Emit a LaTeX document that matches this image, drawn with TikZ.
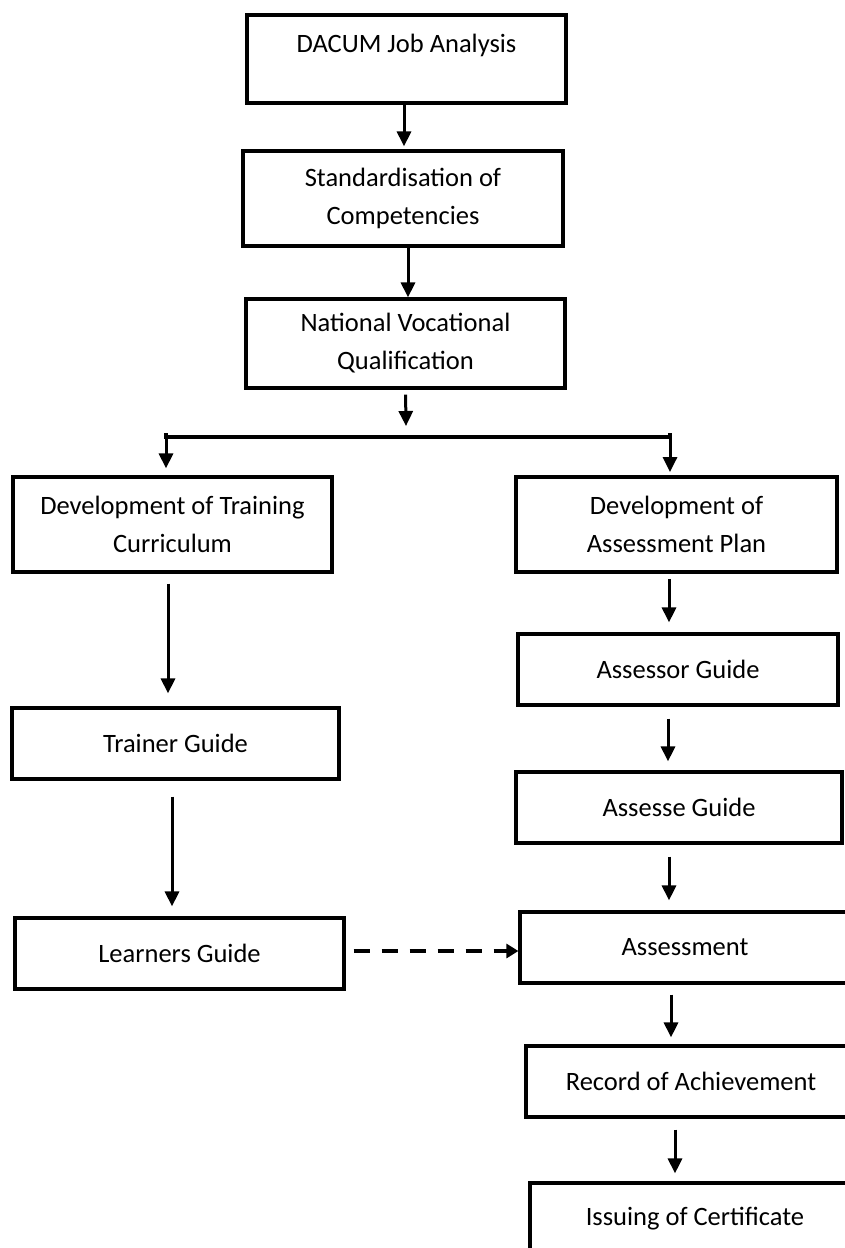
\documentclass[tikz,border=0pt]{standalone}
\usepackage{fontspec}
\setmainfont{Carlito}
\usetikzlibrary{arrows.meta}
\tikzset{
  box/.style={draw=black, line width=3.2pt, rectangle, align=center, inner sep=0pt,
    font=\fontsize{26.5}{38}\selectfont},
  arr/.style={line width=3pt, -{Triangle[width=14pt,length=15pt]}},
  dasharr/.style={line width=3.4pt, dash pattern=on 16pt off 12pt, -{Triangle[width=14pt,length=12pt]}},
  link/.style={line width=3.4pt}
}
\begin{document}
\begin{tikzpicture}[x=1pt,y=-1pt]
\useasboundingbox[fill=white] (0,0) rectangle (845,1248);
% boxes
\node[box, minimum width=319pt, minimum height=88pt] (dacum) at (406.5,59) {DACUM Job Analysis\\[-6pt]\mbox{}};
\node[box, minimum width=320pt, minimum height=95pt] (std) at (403,198.5) {Standardisation of\\Competencies};
\node[box, minimum width=319pt, minimum height=89pt] (nvq) at (405.5,343.5) {National Vocational\\Qualification};
\node[box, minimum width=319pt, minimum height=95pt] (devT) at (172.5,524.5) {Development of Training\\Curriculum};
\node[box, line width=3.8pt, minimum width=321pt, minimum height=95pt] (devA) at (676.5,524.5) {Development of\\Assessment Plan};
\node[box, minimum width=320pt, minimum height=71pt] (assessor) at (678,669.5) {Assessor Guide};
\node[box, minimum width=327pt, minimum height=71pt] (trainer) at (175.5,743.5) {Trainer Guide};
\node[box, minimum width=326pt, minimum height=71pt] (assesse) at (679,807.5) {Assesse Guide};
\node[box, minimum width=329pt, minimum height=71pt] (learners) at (179.5,953.5) {Learners Guide};
\node[box, minimum width=330pt, minimum height=71pt] (assessment) at (685,947.5) {Assessment};
\node[box, minimum width=330pt, minimum height=71pt] (record) at (691,1081.5) {Record of Achievement};
\node[box, minimum width=330pt, minimum height=71pt] (issuing) at (695,1218.5) {Issuing of Certificate};
% coordinates for split
\coordinate (split) at (406,437);
\coordinate (splitL) at (166,437);
\coordinate (splitR) at (670,437);
% connectors
\draw[arr, shorten >=3pt] ([xshift=-2.5pt]dacum.south) -- ([xshift=-2.5pt]dacum.south |- std.north);
\draw[arr] ([xshift=5pt]std.south) -- ([xshift=5pt]std.south |- nvq.north);
\draw[arr, shorten <=5pt] (nvq.south) -- ([yshift=11pt]split);
\draw[link] ([yshift=4pt]splitL) -- (splitL) -- (splitR) -- ([yshift=4pt]splitR);
\draw[arr, shorten >=7pt] (splitL) -- (splitL |- devT.north);
\draw[arr, shorten >=3pt] (splitR) -- (splitR |- devA.north);
\draw[arr, shorten <=10pt, shorten >=13pt] ([xshift=-4.5pt]devT.south) -- ([xshift=-4.5pt]devT.south |- trainer.north);
\draw[arr, shorten <=16pt, shorten >=10pt] ([xshift=-3.5pt]trainer.south) -- ([xshift=-3.5pt]trainer.south |- learners.north);
\draw[arr, shorten <=5pt, shorten >=10pt] ([xshift=-7.5pt]devA.south) -- ([xshift=-7.5pt]devA.south |- assessor.north);
\draw[arr, shorten <=12pt, shorten >=9pt] ([xshift=-10pt]assessor.south) -- ([xshift=-10pt]assessor.south |- assesse.north);
\draw[arr, shorten <=12pt, shorten >=10pt] ([xshift=-10pt]assesse.south) -- ([xshift=-10pt]assesse.south |- assessment.north);
\draw[arr, shorten <=10pt, shorten >=7pt] ([xshift=-14pt]assessment.south) -- ([xshift=-14pt]assessment.south |- record.north);
\draw[arr, shorten <=11pt, shorten >=8pt] ([xshift=-16pt]record.south) -- ([xshift=-16pt]record.south |- issuing.north);
\draw[dasharr, shorten <=8pt] ([yshift=2.5pt]learners.east) -- ([yshift=2.5pt]learners.east -| assessment.west);
\end{tikzpicture}
\end{document}
